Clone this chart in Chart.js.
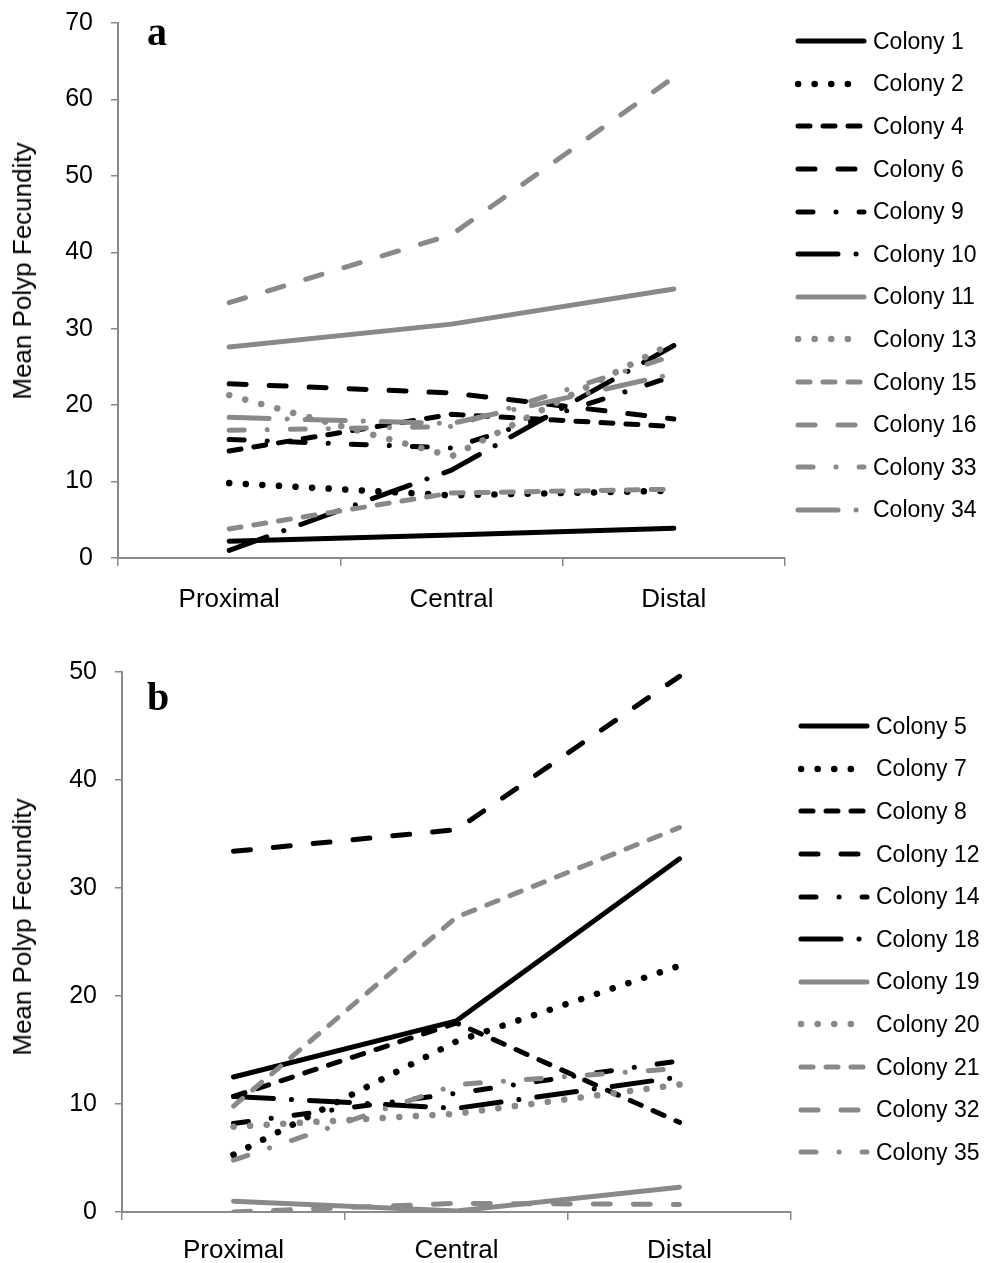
<!DOCTYPE html>
<html>
<head>
<meta charset="utf-8">
<script src="https://cdn.jsdelivr.net/npm/chart.js@4.4.1/dist/chart.umd.min.js"></script>
<style>
  body { margin: 0; background: #fff; }
  #page { position: relative; width: 984px; height: 1263px; overflow: hidden; font-family: "Liberation Sans", Arial, sans-serif; }
  canvas { position: absolute; left: 0; }
  .tag { position: absolute; font-family: "Liberation Serif", "Times New Roman", serif; font-weight: bold; font-size: 40px; line-height: 40px; }
  .ytitle { position: absolute; left: 22px; width: 0; height: 0; }
  .ytitle span { position: absolute; transform: translate(-50%, -50%) rotate(-90deg); white-space: nowrap; font-size: 26px; line-height: 26px; color: #000; }
  .legend { position: absolute; font-size: 23px; color: #000; }
  .legend .row { display: flex; align-items: center; height: 42.6px; white-space: nowrap; }
  .legend svg { flex: none; margin-right: 6px; }
</style>
</head>
<body>
<div id="page">
  <canvas id="chartA" width="800" height="635" style="top:-10px"></canvas>
  <canvas id="chartB" width="800" height="633" style="top:630px"></canvas>
  <div class="tag" style="left:147px;top:12px">a</div>
  <div class="tag" style="left:147px;top:677px">b</div>
  <div class="ytitle" style="top:271px"><span>Mean Polyp Fecundity</span></div>
  <div class="ytitle" style="top:927px"><span>Mean Polyp Fecundity</span></div>
  <div class="legend" id="legendA" style="left:795px;top:20px"></div>
  <div class="legend" id="legendB" style="left:798px;top:705px"></div>
</div>
<script>
const categories = ['Proximal', 'Central', 'Distal'];

// panel a
const namesA = ['Colony 1', 'Colony 2', 'Colony 4', 'Colony 6', 'Colony 9', 'Colony 10',
                'Colony 11', 'Colony 13', 'Colony 15', 'Colony 16', 'Colony 33', 'Colony 34'];
const colony1 = [2.2, 3.0, 3.9];
const colony2 = [9.8, 8.2, 8.8];
const colony4 = [14.0, 18.8, 17.2];
const colony6 = [22.8, 21.6, 18.2];
const colony9 = [15.5, 14.4, 23.8];
const colony10 = [1.0, 11.5, 27.8];
const colony11 = [27.6, 30.6, 35.2];
const colony13 = [21.3, 13.3, 28.2];
const colony15 = [3.8, 8.5, 9.0];
const colony16 = [33.4, 42.3, 62.9];
const colony33 = [16.7, 17.2, 26.5];
const colony34 = [18.4, 17.6, 24.1];
const yTicksA = [0, 10, 20, 30, 40, 50, 60, 70];

// panel b
const namesB = ['Colony 5', 'Colony 7', 'Colony 8', 'Colony 12', 'Colony 14', 'Colony 18',
                'Colony 19', 'Colony 20', 'Colony 21', 'Colony 32', 'Colony 35'];
const colony5 = [12.5, 17.7, 32.7];
const colony7 = [5.3, 15.8, 22.8];
const colony8 = [10.7, 17.5, 8.3];
const colony12 = [33.4, 35.4, 49.6];
const colony14 = [8.2, 11.0, 14.0];
const colony18 = [10.7, 9.6, 12.5];
const colony19 = [1.0, 0.1, 2.3];
const colony20 = [7.9, 9.1, 11.8];
const colony21 = [9.8, 27.3, 35.6];
const colony32 = [0.0, 0.8, 0.7];
const colony35 = [4.8, 11.8, 13.3];
const yTicksB = [0, 10, 20, 30, 40, 50];

const seriesA = [colony1, colony2, colony4, colony6, colony9, colony10,
                 colony11, colony13, colony15, colony16, colony33, colony34];
const seriesB = [colony5, colony7, colony8, colony12, colony14, colony18,
                 colony19, colony20, colony21, colony32, colony35];

// same line style sequence in both panels
const BLACK = '#000000', GREY = '#898989', AXIS = '#8a8a8a';
const patterns = {
    solid: [],
    dot: [0.1, 16.5],
    dash: [12, 13],
    longDash: [17, 23],
    dashDot: [15, 23, 0.1, 23],
    longDashDot: [40, 18, 0.1, 18]
};
const styleOrder = [
    [BLACK, 'solid'], [BLACK, 'dot'], [BLACK, 'dash'], [BLACK, 'longDash'], [BLACK, 'dashDot'], [BLACK, 'longDashDot'],
    [GREY, 'solid'], [GREY, 'dot'], [GREY, 'dash'], [GREY, 'longDash'], [GREY, 'dashDot'], [GREY, 'longDashDot']
];

function makeDatasets(names, series) {
    return names.map((name, i) => {
        let color = styleOrder[i][0], kind = styleOrder[i][1];
        return {
            label: name,
            data: series[i],
            borderColor: color,
            backgroundColor: color,
            borderWidth: kind === 'dot' ? 6.5 : 5,
            borderDash: patterns[kind],
            borderCapStyle: 'round',
            borderJoinStyle: 'round',
            pointRadius: 0,
            tension: 0,
            fill: false,
            order: names.length - i
        };
    });
}

function buildLegend(id, names) {
    let box = document.getElementById(id);
    names.forEach((name, i) => {
        let color = styleOrder[i][0], kind = styleOrder[i][1];
        let w = kind === 'dot' ? 6.5 : 5;
        let dash = patterns[kind].length ? 'stroke-dasharray="' + patterns[kind].join(' ') + '"' : '';
        let row = document.createElement('div');
        row.className = 'row';
        row.innerHTML = '<svg width="72" height="14"><line x1="3" y1="7" x2="69" y2="7" stroke="' + color +
            '" stroke-width="' + w + '" stroke-linecap="round" ' + dash + '/></svg><span>' + name + '</span>';
        box.appendChild(row);
    });
}

const fontFamily = '"Liberation Sans", Arial, sans-serif';

function makeOptions(yTicks, yWidth, padTop, padRight, xHeight, xPad) {
    return {
        responsive: false,
        animation: false,
        layout: { padding: { top: padTop, right: padRight, bottom: 0, left: 0 } },
        plugins: { legend: { display: false }, tooltip: { enabled: false } },
        scales: {
            x: {
                type: 'category',
                offset: true,
                grid: { display: true, drawOnChartArea: false, drawTicks: true, tickLength: 8, offset: true, color: AXIS, lineWidth: 1.5 },
                border: { display: true, color: AXIS, width: 2 },
                ticks: { color: '#000', font: { family: fontFamily, size: 26 }, padding: xPad, maxRotation: 0 },
                afterFit: function (s) { s.height = xHeight; }
            },
            y: {
                min: yTicks[0],
                max: yTicks[yTicks.length - 1],
                afterBuildTicks: function (s) { s.ticks = yTicks.map(v => ({ value: v })); },
                grid: { drawOnChartArea: false, drawTicks: true, tickLength: 7, color: AXIS, lineWidth: 1.5 },
                border: { display: true, color: AXIS, width: 2 },
                ticks: { color: '#000', font: { family: fontFamily, size: 25 }, padding: 18 },
                afterFit: function (s) { s.width = yWidth; }
            }
        }
    };
}

let chartA = new Chart(document.getElementById('chartA').getContext('2d'), {
    type: 'line',
    data: { labels: categories, datasets: makeDatasets(namesA, seriesA) },
    options: makeOptions(yTicksA, 118, 31, 15, 67, 18)
});

let chartB = new Chart(document.getElementById('chartB').getContext('2d'), {
    type: 'line',
    data: { labels: categories, datasets: makeDatasets(namesB, seriesB) },
    options: makeOptions(yTicksB, 122, 42, 9, 51, 15)
});

buildLegend('legendA', namesA);
buildLegend('legendB', namesB);
</script>
</body>
</html>
